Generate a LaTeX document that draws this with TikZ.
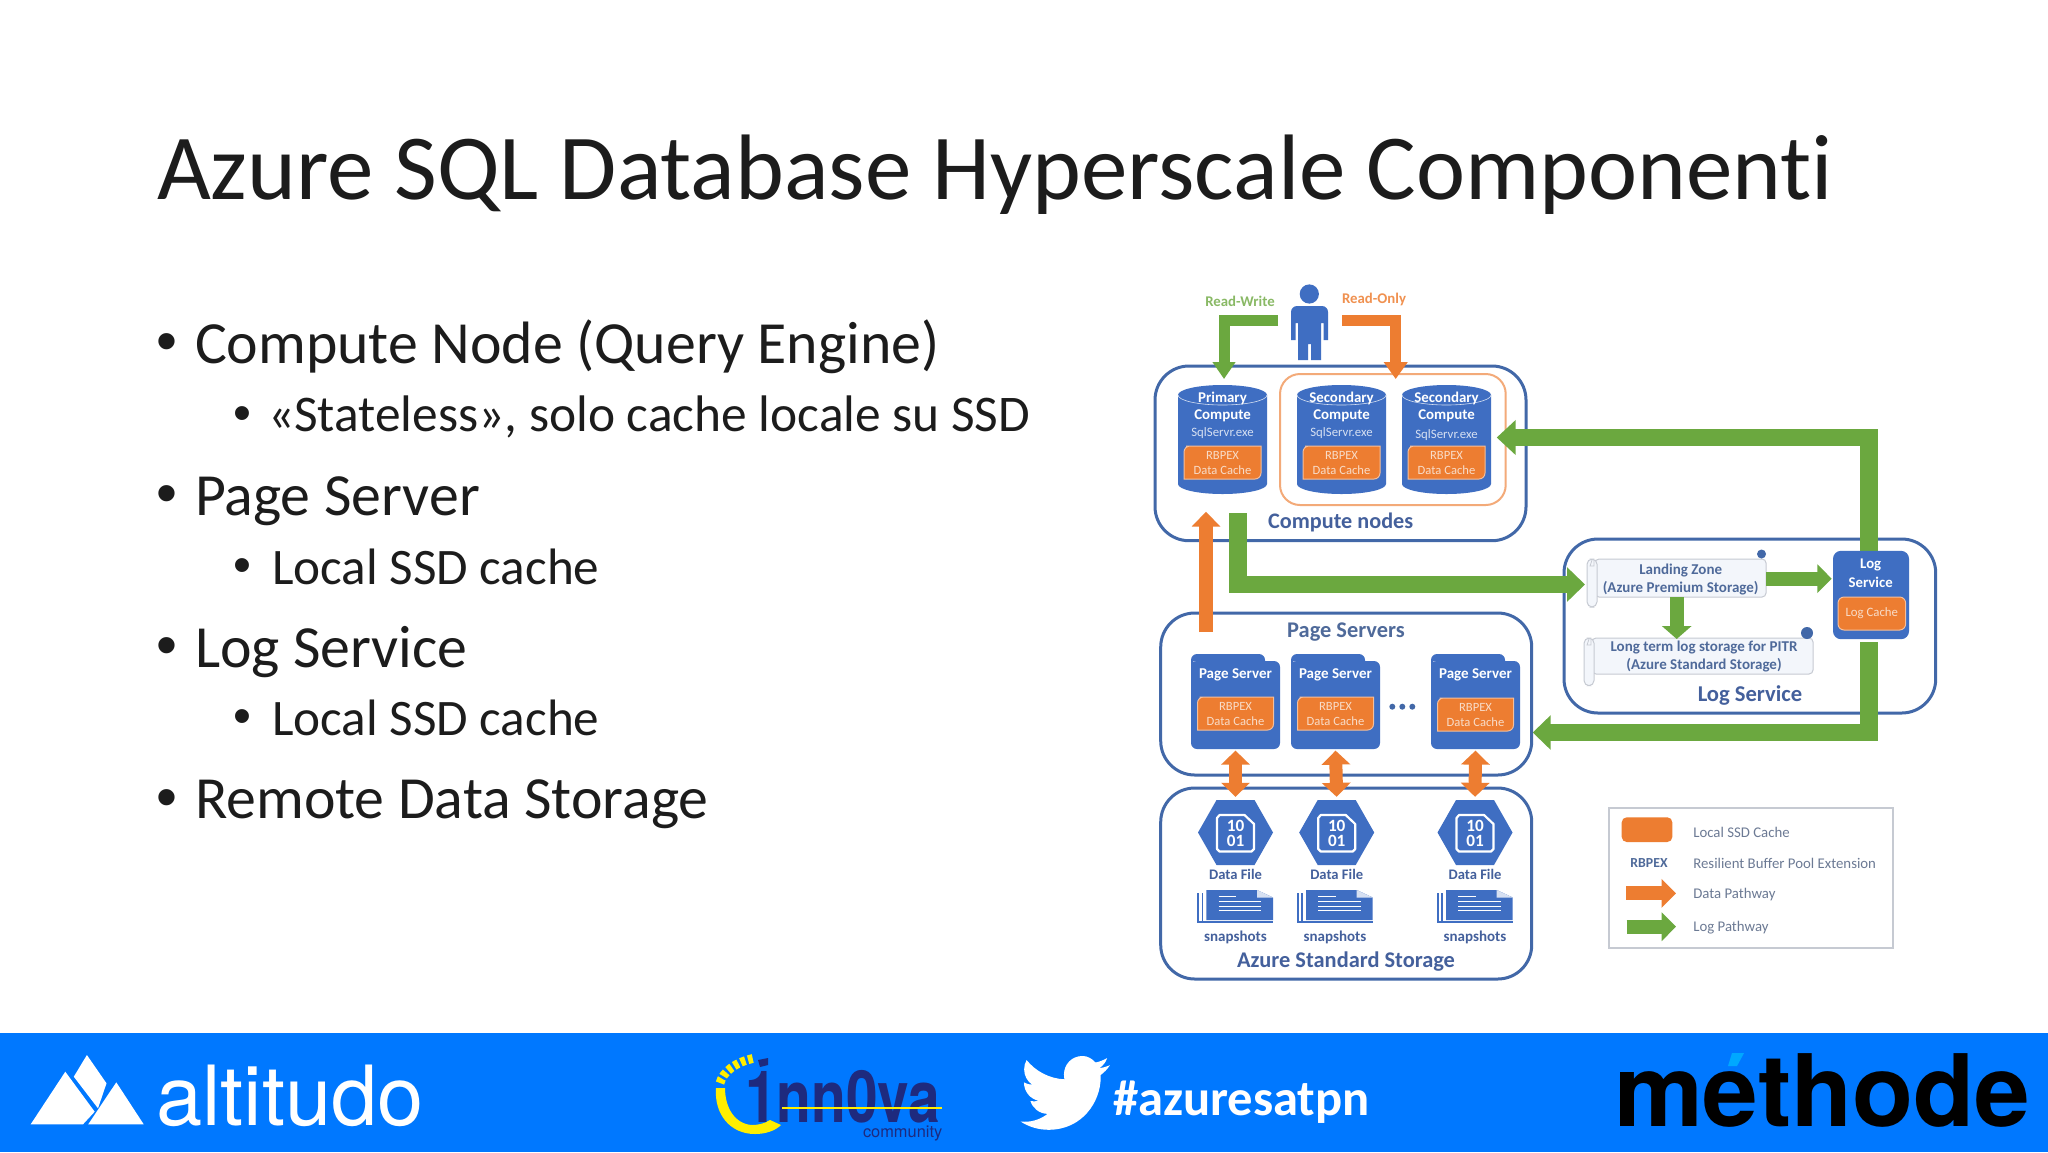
\documentclass[tikz,border=0pt]{standalone}
\usepackage{fontspec}
\setmainfont[Ligatures=NoCommon]{Carlito}
\newfontfamily\heros{TeX Gyre Heros}
\newfontfamily\heroslogo[FakeStretch=.79]{TeX Gyre Heros}
\newfontfamily\arialish{Liberation Sans}
\usetikzlibrary{arrows.meta,calc}
\definecolor{boxblue}{HTML}{3F6EC2}
\definecolor{rimblue}{HTML}{4268A8}
\definecolor{labblue}{HTML}{44609C}
\definecolor{softblue}{HTML}{4F6A9A}
\definecolor{flow}{HTML}{6BA83F}
\definecolor{data}{HTML}{ED7D31}
\definecolor{cream}{HTML}{F8DCC8}
\definecolor{paleblue}{HTML}{D6E0F2}
\definecolor{legtext}{HTML}{6C7A94}
\definecolor{legrim}{HTML}{C6CAD2}
\definecolor{band}{HTML}{0078FF}
\definecolor{navy}{HTML}{1E2A7E}
\definecolor{sunny}{HTML}{FFEE00}
\definecolor{accentblue}{HTML}{00A8FF}
\definecolor{slideink}{HTML}{1C1C1C}
\newcommand{\fr}[1]{\fontsize{#1}{#1}\selectfont}
\newcommand{\fb}[1]{\fontsize{#1}{#1}\selectfont\bfseries}
\tikzset{
 lbl/.style={inner sep=0pt,outer sep=0pt,anchor=center,yshift=-.6pt},
 slide/.style={inner sep=0pt,outer sep=0pt,anchor=base west,text=slideink},
 dotbig/.style={inner sep=0pt,outer sep=0pt,anchor=center,text=slideink,font={\arialish\fr{29.9}}},
 dotsmall/.style={inner sep=0pt,outer sep=0pt,anchor=center,text=slideink,font={\arialish\fr{25.6}}},
 hold/.style={inner sep=0pt,outer sep=0pt,draw=none},
 shell/.style={draw=rimblue,line width=1.5pt,rounded corners=17pt},
 cachefill/.style={fill=data,draw=cream!70!data,line width=.5pt},
 logpath/.style={draw=flow,line width=8.75pt,-{Triangle[length=9pt,width=16.8pt]}},
 datapath/.style={draw=data,line width=7pt,-{Triangle[length=7.5pt,width=14pt]}},
 usergreen/.style={draw=flow,line width=5.5pt,-{Triangle[length=8.5pt,width=11pt]}},
 userorange/.style={draw=data,line width=5.5pt,-{Triangle[length=8.5pt,width=11.5pt]}},
 datadouble/.style={draw=data,line width=6.5pt,{Triangle[length=7pt,width=14pt]}-{Triangle[length=7pt,width=14pt]}},
}
% name, left x, top y, right x, bottom y, first line, second line
\newcommand{\cachebox}[7]{%
 \path[cachefill] ({#2+8},#3) [sharp corners] -- (#4,#3) -- (#4,{#5-8}) [rounded corners=3pt] -- (#4,#5) -- ({#2+8},#5) [sharp corners] -- (#2,#5) -- (#2,{#3+8}) [rounded corners=3pt] -- (#2,#3) -- cycle;
 \node[lbl,text=cream,font={\fr{6.3}}] (#1-a) at ({(#2+#4)/2},{#3+8}) {#6};
 \node[lbl,text=cream,font={\fr{6.3}}] (#1-b) at ({(#2+#4)/2},{#3+23}) {#7};
}
% name, left x, first label, second label
\newcommand{\cylinderbox}[4]{%
 \fill[boxblue] (#2,395) -- (#2,484) arc[start angle=180,end angle=360,x radius=22.25pt,y radius=5pt] -- ({#2+89},395) arc[start angle=0,end angle=180,x radius=22.25pt,y radius=5pt] -- cycle;
 \draw[paleblue,line width=.3pt] (#2,395) arc[start angle=180,end angle=360,x radius=22.25pt,y radius=5pt];
 \node[hold,minimum width=44.5pt,minimum height=54.5pt] (#1) at ({#2+44.5},439.5) {};
 \node[lbl,text=white,font={\fb{7.45}}] (#1-a) at ({#2+44.5},397.7) {#3};
 \node[lbl,text=white,font={\fb{7.45}}] (#1-b) at ({#2+44.5},415) {Compute};
 \node[lbl,text=paleblue,font={\fr{6.4}}] (#1-c) at ({#2+44.5},#4) {SqlServr.exe};
 \cachebox{#1-cache}{#2+6}{446}{#2+83}{479}{RBPEX}{Data Cache}
}
% name, left x, cache top
\newcommand{\pagecard}[3]{%
 \fill[boxblue,rounded corners=3pt] (#2,654) rectangle ({#2+74},675);
 \draw[paleblue!60!boxblue,line width=.3pt] ({#2+2},661) -- ({#2+84},661);
 \node[hold,fill=boxblue,rounded corners=3pt,minimum width=44.5pt,minimum height=44pt] (#1) at ({#2+44.5},705) {};
 \node[lbl,text=white,font={\fb{7.5}}] (#1-a) at ({#2+44.5},674) {Page Server};
 \cachebox{#1-cache}{#2+6.5}{#3}{#2+82.5}{#3+33}{RBPEX}{Data Cache}
}
% name, center x
\newcommand{\hexfile}[2]{%
 \fill[boxblue] ({#2-37.5},832.5) -- ({#2-19},800) -- ({#2+19},800) -- ({#2+37.5},832.5) -- ({#2+19},865) -- ({#2-19},865) -- cycle;
 \node[hold,minimum width=37.5pt,minimum height=32.5pt] (#1) at (#2,832.5) {};
 \draw[white,line width=1.1pt,line join=round] ({#2-18.5},818) -- ({#2-18.5},849) -- ({#2-16},851.5) -- ({#2+16},851.5) -- ({#2+18.5},849) -- ({#2+18.5},824) -- ({#2+9},815) -- ({#2-16},815) -- cycle;
 \node[lbl,text=white,font={\fb{8.6}}] (#1-a) at (#2,824.7) {10};
 \node[lbl,text=white,font={\fb{8.6}}] (#1-b) at (#2,839.7) {01};
 \node[lbl,text=labblue,font={\fb{7.3}}] (#1-c) at (#2,873.3) {Data File};
}
% name, left x, label center x
\newcommand{\snapshots}[3]{%
 \fill[boxblue] (#2,893) rectangle ({#2+2},922.5);
 \fill[boxblue] ({#2+4.7},893) rectangle ({#2+6.3},922.5);
 \fill[boxblue] (#2,920.5) rectangle ({#2+76},922.5);
 \fill[boxblue] ({#2+9.3},890) -- ({#2+60},890) -- ({#2+76},897.5) -- ({#2+76},920) -- ({#2+9.3},920) -- cycle;
 \fill[paleblue] ({#2+60},890) -- ({#2+76},897.5) -- ({#2+60},897.5) -- cycle;
 \draw[white,line width=.5pt] ({#2+21.7},896) -- ({#2+39},896);
 \draw[white,line width=.5pt] ({#2+21.7},901.7) -- ({#2+64},901.7);
 \draw[white,line width=.5pt] ({#2+21.7},906) -- ({#2+64},906);
 \draw[white,line width=.5pt] ({#2+21.7},910) -- ({#2+64},910);
 \node[hold,minimum width=38pt,minimum height=16pt] (#1) at ({#2+38},906) {};
 \node[lbl,text=labblue,font={\fb{7.5}}] (#1-a) at (#3,936) {snapshots};
}
% name, x1, y1, x2, y2, roll bottom, dot radius
\newcommand{\scrollbox}[7]{%
 \path[fill=paleblue!30,draw=legrim,line width=.5pt,rounded corners=2pt] ({#2+8},#3) -- (#4,#3) -- (#4,#5) -- ({#2+8},#5) -- cycle;
 \path[fill=paleblue!30,draw=legrim,line width=.5pt,rounded corners=2.6pt] (#2,#3) rectangle ({#2+10},#6);
 \draw[legrim,line width=.4pt] ({#2+5},{#3+1}) -- ({#2+3},{#3+7}) -- ({#2+7},{#3+7}) -- ({#2+7},{#3+1});
 \fill[rimblue] ({#4-#7},{#3-5}) circle[radius=#7*.5pt];
 \node[hold,minimum width={(#4-#2)*.5pt},minimum height={(#6-#3)*.5pt}] (#1) at ({(#2+#4)/2},{(#3+#6)/2}) {};
}
\begin{document}
\begin{tikzpicture}[x=.5pt,y=-.5pt]
\useasboundingbox (0,0) rectangle (2048,1152);
\fill[white] (0,0) rectangle (2048,1152);

% slide text
\node[slide,font={\fr{46.5}}] (title) at (157,199) {Azure SQL Database Hyperscale Componenti};
\node[dotbig] (b1) at (166.7,348) {•};
\node[slide,font={\fr{29.9}}] (t1) at (195,363.5) {Compute Node (Query Engine)};
\node[dotsmall] (b2) at (242.3,419) {•};
\node[slide,font={\fr{25.7}}] (t2) at (268,431.5) {«Stateless», solo cache locale su SSD};
\node[dotbig] (b3) at (166.7,500) {•};
\node[slide,font={\fr{29.9}}] (t3) at (195,515.5) {Page Server};
\node[dotsmall] (b4) at (242.3,571) {•};
\node[slide,font={\fr{25.6}}] (t4) at (272,584) {Local SSD cache};
\node[dotbig] (b5) at (166.7,652) {•};
\node[slide,font={\fr{29.9}}] (t5) at (195,667) {Log Service};
\node[dotsmall] (b6) at (242.3,722) {•};
\node[slide,font={\fr{25.6}}] (t6) at (272,735) {Local SSD cache};
\node[dotbig] (b7) at (166.7,804) {•};
\node[slide,font={\fr{29.9}}] (t7) at (195,818.5) {Remote Data Storage};

% containers
\draw[shell] (1155,366) rectangle (1526,540.7);
\draw[draw=data!65!white,line width=1pt,rounded corners=10pt] (1280,374) rectangle (1505.7,505);
\draw[shell] (1564,539) rectangle (1935.7,713);
\draw[shell] (1160.7,613) rectangle (1531.7,775);
\draw[shell] (1160.7,788) rectangle (1531.7,979);

% person
\fill[boxblue] (1309.3,294) circle[radius=4.8pt];
\fill[boxblue] (1309,306) [rounded corners=3pt] -- (1328,306) -- (1328,320) [sharp corners] -- (1328,340) -- (1323.5,340) -- (1323.5,323) -- (1321,323) -- (1321,360) -- (1311,360) -- (1311,344) -- (1308,344) -- (1308,360) -- (1298,360) -- (1298,323) -- (1295.5,323) -- (1295.5,340) -- (1291,340) -- (1291,320) [rounded corners=3pt] -- (1291,306) -- cycle;
\node[lbl,text=flow!80!white,font={\fb{7.4}}] (rw) at (1240,300.5) {Read-Write};
\node[lbl,text=data!85!white,font={\fb{7.4}}] (ro) at (1374,298) {Read-Only};

% compute
\cylinderbox{primary}{1178}{Primary}{431.7}
\cylinderbox{secA}{1297}{Secondary}{431.7}
\cylinderbox{secB}{1402}{Secondary}{433.5}
\node[lbl,text=labblue,font={\fb{11.1}}] (computelab) at (1340.7,521.7) {Compute nodes};

% page servers
\node[lbl,text=softblue,font={\fb{11.2}}] (pagelab) at (1346,631) {Page Servers};
\pagecard{pageA}{1191}{697}
\pagecard{pageB}{1291}{697}
\pagecard{pageC}{1431}{698}
\fill[rimblue] (1392.3,706.7) circle[radius=1.5pt];
\fill[rimblue] (1402.3,706.7) circle[radius=1.5pt];
\fill[rimblue] (1412.3,706.7) circle[radius=1.5pt];

% storage
\hexfile{hexA}{1235.5}
\hexfile{hexB}{1336.7}
\hexfile{hexC}{1475}
\snapshots{snapA}{1197}{1235.5}
\snapshots{snapB}{1296.7}{1335}
\snapshots{snapC}{1436.7}{1475}
\node[lbl,text=labblue,font={\fb{11.2}}] (storelab) at (1346,960) {Azure Standard Storage};

% log service
\node[lbl,text=labblue,font={\fb{11.3}}] (loglab) at (1750,694) {Log Service};
\scrollbox{landing}{1587}{559}{1766}{597}{607}{4.5}
\node[lbl,text=softblue,font={\fb{7.5}}] (landa) at (1680.7,569) {Landing Zone};
\node[lbl,text=softblue,font={\fb{7.5}}] (landb) at (1680.7,586.7) {(Azure Premium Storage)};
\scrollbox{longterm}{1584}{638}{1813}{674}{685.7}{6}
\node[lbl,text=softblue,font={\fb{7.5}}] (longa) at (1704,646.7) {Long term log storage for PITR};
\node[lbl,text=softblue,font={\fb{7.5}}] (longb) at (1704,664) {(Azure Standard Storage)};

% connectors
\coordinate (userW) at (1278,320);
\coordinate (userE) at (1342,320);
\coordinate (rwtip) at (1224,379);
\coordinate (rotip) at (1395.7,379);
\draw[usergreen] (userW) -| (rwtip);
\draw[userorange] (userE) -| (rotip);
\coordinate (pagefoot) at (1206,632);
\coordinate (pagetip) at (1206,511.7);
\draw[datapath] (pagefoot) -- (pagetip);
\coordinate (computefoot) at (1238,513);
\coordinate (landtip) at (1585,584.5);
\draw[logpath] (computefoot) |- (landtip);
\coordinate (logup) at (1869,552);
\coordinate (sectip) at (1496.7,437.5);
\draw[logpath,-{Triangle[length=9.5pt,width=17pt]}] (logup) |- (sectip);
\coordinate (logdown) at (1869,642);
\coordinate (pagesidetip) at (1532.7,732.5);
\draw[logpath] (logdown) |- (pagesidetip);
\coordinate (landright) at (1766,578.7);
\coordinate (logleft) at (1831.7,578.7);
\draw[draw=flow,line width=7pt,-{Triangle[length=7.2pt,width=14pt]}] (landright) -- (logleft);
\coordinate (landbelow) at (1676.7,597);
\coordinate (longtop) at (1676.7,639);
\draw[draw=flow,line width=7pt,-{Triangle[length=6.5pt,width=14.5pt]}] (landbelow) -- (longtop);
\draw[datadouble,shorten >=1.6pt,shorten <=.8pt] (pageA.south) -- (hexA.north);
\draw[datadouble,shorten >=1.6pt,shorten <=.8pt] (pageB.south) -- (hexB.north);
\draw[datadouble,shorten >=1.6pt,shorten <=.8pt] (pageC.south) -- (hexC.north);

% log service box
\node[hold,fill=boxblue,rounded corners=4pt,minimum width=38pt,minimum height=44.2pt] (logbox) at (1871,595) {};
\node[lbl,text=white,font={\fb{7.4}}] (logboxa) at (1870.7,564) {Log};
\node[lbl,text=white,font={\fb{7.4}}] (logboxb) at (1870.7,581) {Service};
\node[lbl,yshift=.6pt,fill=data,draw=cream!70!data,line width=.5pt,rounded corners=3pt,minimum width=33.8pt,minimum height=16.5pt,text=cream,font={\fr{6.4}}] (logcache) at (1871.8,613.5) {Log Cache};

% legend
\draw[legrim,line width=1pt] (1609,808) rectangle (1893.3,947.7);
\fill[data,rounded corners=2.5pt] (1621.7,817.3) rectangle (1672.3,842);
\node[lbl,anchor=west,text=legtext,font={\fr{7.4}}] (leg1) at (1693.3,830.7) {Local SSD Cache};
\node[lbl,text=softblue,font={\fb{6.9}}] (legR) at (1649,861.7) {RBPEX};
\node[lbl,anchor=west,text=legtext,font={\fr{7.4}}] (leg2) at (1693.3,861.7) {Resilient Buffer Pool Extension};
\coordinate (legDa) at (1626,893.3);
\coordinate (legDb) at (1676,893.3);
\draw[draw=data,line width=7pt,-{Triangle[length=7.2pt,width=14pt]}] (legDa) -- (legDb);
\node[lbl,anchor=west,text=legtext,font={\fr{7.4}}] (leg3) at (1693.3,893.3) {Data Pathway};
\coordinate (legLa) at (1626.7,926.7);
\coordinate (legLb) at (1676,926.7);
\draw[draw=flow,line width=7pt,-{Triangle[length=7.2pt,width=14pt]}] (legLa) -- (legLb);
\node[lbl,anchor=west,text=legtext,font={\fr{7.4}}] (leg4) at (1693.3,926.7) {Log Pathway};

% footer band
\fill[band] (0,1032.7) rectangle (2048,1152);
\fill[white] (65.3,1071.7) -- (94.7,1111.7) -- (83,1124.3) -- (30.7,1124.3) -- cycle;
\fill[white] (86.9,1055) -- (106.5,1083.3) -- (98,1108.3) -- (73.8,1076.7) -- cycle;
\fill[white] (116.3,1082.3) -- (143.7,1124.3) -- (88.2,1124.3) -- cycle;
\node[slide,text=white,font={\heros\fr{41.5}}] (altitudo) at (156,1125) {altitudo};

% community logo
\fill[sunny] (716,1088) .. controls (714,1114) and (730,1134) .. (755,1134) .. controls (765,1134) and (775,1131) .. (781,1125) -- (770,1120) .. controls (764,1124) and (757,1125) .. (752,1125) .. controls (735,1124) and (725,1108) .. (725,1088) -- cycle;
\draw[sunny,line width=4.4pt,dash pattern=on 2.4pt off 1.4pt] (720,1083) .. controls (723,1072) and (735,1062) .. (755,1058);
\node[slide,text=navy,font={\heroslogo\fb{36}}] (innova) at (745,1122) {1nn0va};
\fill[navy] (758,1060) -- (768,1058) -- (768,1065) -- (760,1067) -- cycle;
\draw[sunny,line width=.8pt] (782,1108) -- (942,1108);
\node[slide,text=navy,font={\heros\fr{8.2}}] (commu) at (863,1137) {community};

% twitter bird and tag
\fill[white,shift={(1020.5,1048.2)},x=1.86pt,y=-1.875pt] (23.953,4.57) .. controls (23.1,4.95) and (22.1,5.2) .. (21.128,5.345) .. controls (22.1,4.75) and (22.9,3.8) .. (23.291,2.622) .. controls (22.34,3.177) and (21.286,3.581) .. (20.164,3.806) .. controls (19.27,2.85) and (18,2) .. (16.6,2.08) .. controls (13.8,2.08) and (11.68,4.3) .. (11.68,7) .. controls (11.68,7.4) and (11.72,7.85) .. (11.78,8.288) .. controls (7.69,8.095) and (4.067,6.13) .. (1.64,3.162) .. controls (1.2,3.9) and (.974,4.75) .. (.974,5.637) .. controls (.974,7.347) and (1.844,8.85) .. (3.162,9.733) .. controls (2.35,9.7) and (1.6,9.5) .. (.934,9.117) -- (.934,9.177) .. controls (.934,11.55) and (2.6,13.55) .. (4.88,14.004) .. controls (4.15,14.2) and (3.4,14.23) .. (2.668,14.089) .. controls (3.3,16.05) and (5.1,17.46) .. (7.272,17.506) .. controls (5.6,18.8) and (3.45,19.61) .. (1.17,19.611) .. controls (.78,19.611) and (.391,19.588) .. (0,19.544) .. controls (2.2,20.95) and (4.8,21.753) .. (7.557,21.753) .. controls (16.61,21.753) and (21.555,14.257) .. (21.555,7.768) .. controls (21.555,7.558) and (21.555,7.348) .. (21.54,7.138) .. controls (22.5,6.45) and (23.35,5.58) .. (24,4.59) -- cycle;
\node[slide,text=white,font={\fb{25.3}}] (hashtag) at (1113,1115) {\#azuresatpn};

% methode
\node[slide,text=black,font={\heros\fb{50}}] (methode) at (1614,1126) {méthode};
\fill[band] (1712,1046) rectangle (1757,1070);
\fill[accentblue] (1732,1053) -- (1744,1053) -- (1737,1066) -- (1728,1066) -- cycle;
\end{tikzpicture}
\end{document}
